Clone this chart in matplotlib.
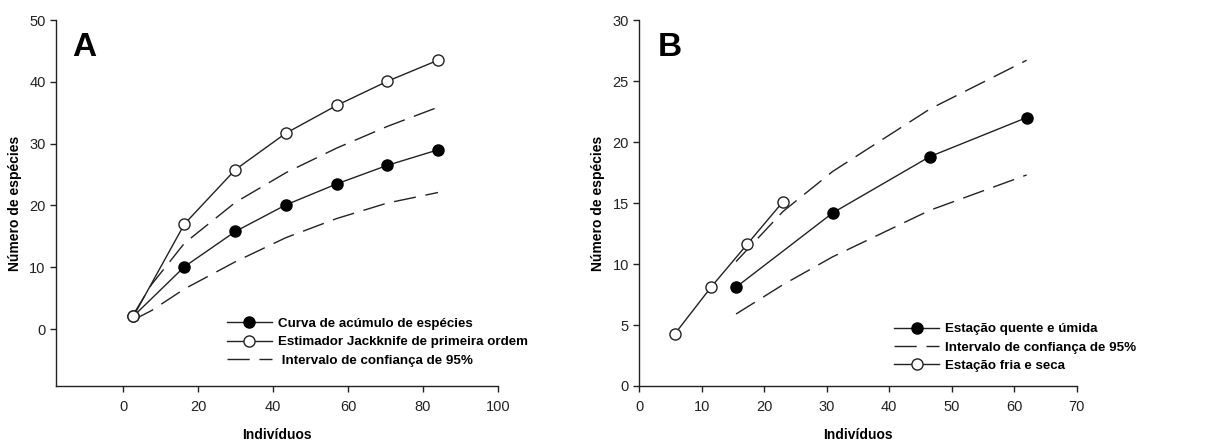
import matplotlib
matplotlib.use('Agg')
import matplotlib.pyplot as plt

plt.rcParams['font.family'] = ['Liberation Sans', 'DejaVu Sans']

# Panel A data
a_x = [2.7, 16.3, 29.9, 43.4, 57.0, 70.5, 84.0]
a_obs = [2.1, 10.1, 15.8, 20.1, 23.5, 26.5, 29.0]
a_jack = [2.1, 17.0, 25.8, 31.7, 36.2, 40.1, 43.5]
a_ci_x = [2.7, 7.5, 16.3, 29.9, 43.4, 57.0, 70.5, 84.0]
a_ci_up = [2.4, 7.2, 13.9, 20.5, 25.3, 29.3, 32.8, 35.9]
a_ci_lo = [1.5, 3.0, 6.5, 10.9, 14.8, 17.9, 20.4, 22.1]

# Panel B data
b_wet_x = [15.5, 31.0, 46.5, 62.0]
b_wet = [8.1, 14.2, 18.8, 22.0]
b_ci_x = [15.5, 23.0, 31.0, 46.5, 62.0]
b_ci_up = [10.2, 14.3, 17.6, 22.7, 26.7]
b_ci_lo = [5.9, 8.3, 10.6, 14.4, 17.3]
b_dry_x = [5.75, 11.5, 17.25, 23.0]
b_dry = [4.3, 8.1, 11.6, 15.1]

lc = '#222222'
dash = (16, 7)
ms = 8

fig = plt.figure(figsize=(12.06, 4.42), dpi=100)
axA = fig.add_axes([0.0464, 0.1267, 0.3665, 0.828])
axB = fig.add_axes([0.530, 0.1267, 0.3627, 0.828])


def style(ax):
    for s in ['top', 'right']:
        ax.spines[s].set_visible(False)
    for s in ['left', 'bottom']:
        ax.spines[s].set_linewidth(1)
        ax.spines[s].set_color(lc)
    ax.tick_params(direction='out', length=4, width=1, labelsize=10.5, colors=lc)
    ax.tick_params(axis='x', pad=6)
    ax.set_xlabel('Indivíduos', fontsize=10, fontweight='bold', labelpad=10)
    ax.set_ylabel('Número de espécies', fontsize=10, fontweight='bold', labelpad=5)


leg_kw = dict(loc='lower left', frameon=False, prop={'weight': 'bold', 'size': 9.6},
              handlelength=3.4, handletextpad=0.45, labelspacing=0.45, borderpad=0)

# A
axA.plot(a_ci_x, a_ci_up, color=lc, lw=1, dashes=dash)
axA.plot(a_ci_x, a_ci_lo, color=lc, lw=1, dashes=dash)
axA.plot(a_x, a_obs, color=lc, lw=1, marker='o', ms=ms, mfc='black', mec='black',
         label='Curva de acúmulo de espécies')
axA.plot(a_x, a_jack, color=lc, lw=1, marker='o', ms=ms, mfc='white', mec=lc,
         label='Estimador Jackknife de primeira ordem')
axA.plot([], [], color=lc, lw=1, dashes=dash, label=' Intervalo de confiança de 95%')
axA.set_xlim(-18, 100)
axA.set_ylim(-9.2, 50)
axA.set_xticks(range(0, 101, 20))
axA.set_yticks(range(0, 51, 10))
style(axA)
h, l = axA.get_legend_handles_labels()
axA.legend(h, l, bbox_to_anchor=(0.371, 0.035), **leg_kw)
axA.text(0.036, 0.967, 'A', transform=axA.transAxes, fontsize=24, fontweight='bold',
         va='top', ha='left')

# B
axB.plot(b_wet_x, b_wet, color=lc, lw=1, marker='o', ms=ms, mfc='black', mec='black',
         label='Estação quente e úmida')
axB.plot(b_ci_x, b_ci_up, color=lc, lw=1, dashes=dash, label='Intervalo de confiança de 95%')
axB.plot(b_ci_x, b_ci_lo, color=lc, lw=1, dashes=dash)
axB.plot(b_dry_x, b_dry, color=lc, lw=1, marker='o', ms=ms, mfc='white', mec=lc,
         label='Estação fria e seca')
axB.set_xlim(0, 70)
axB.set_ylim(0, 30)
axB.set_xticks(range(0, 71, 10))
axB.set_yticks(range(0, 31, 5))
style(axB)
axB.legend(bbox_to_anchor=(0.567, 0.02), **leg_kw)
axB.text(0.042, 0.967, 'B', transform=axB.transAxes, fontsize=24, fontweight='bold',
         va='top', ha='left')

fig.savefig('out.png', dpi=100)
